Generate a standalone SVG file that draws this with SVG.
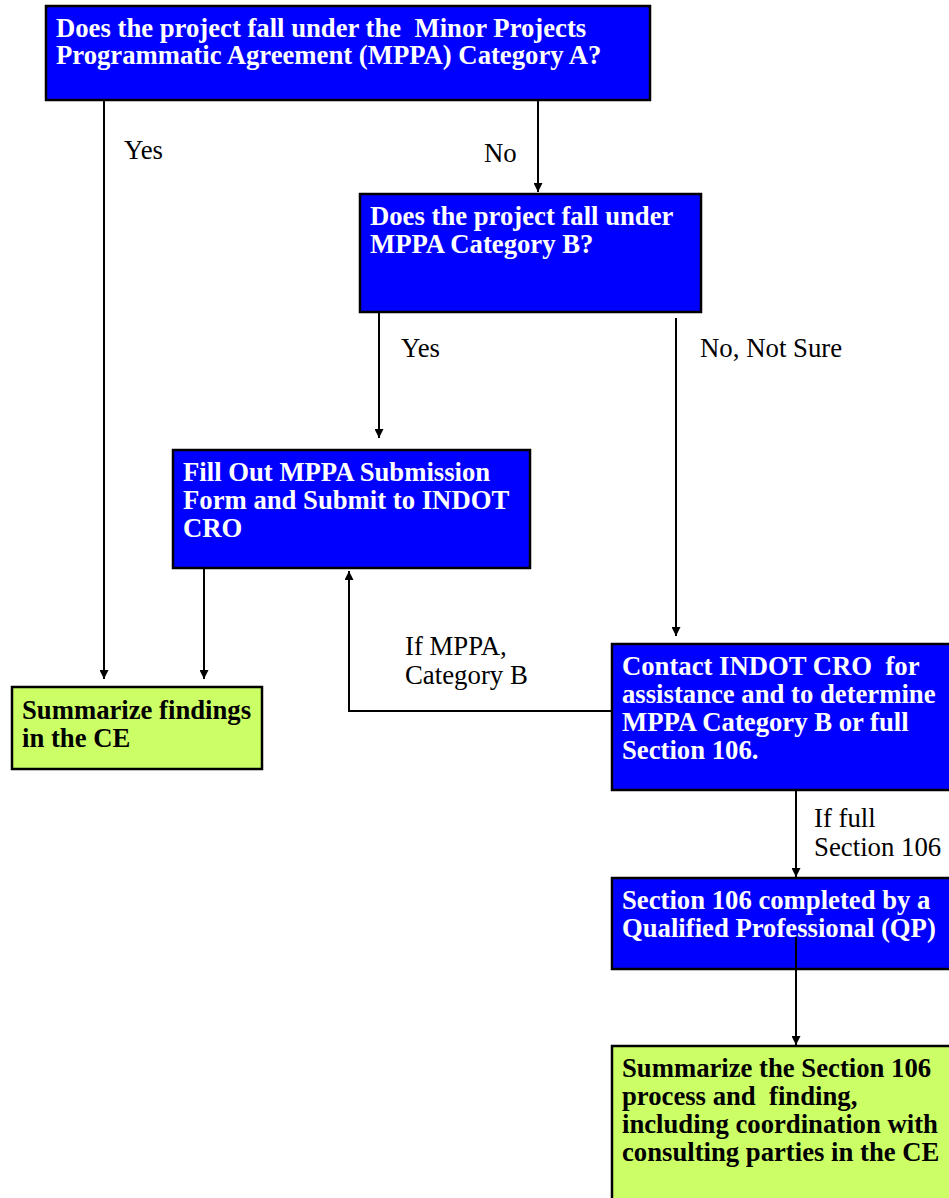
<svg xmlns="http://www.w3.org/2000/svg" width="949" height="1198" viewBox="0 0 949 1198">
  <style>
    .q { fill: #0000FF; stroke: #000; stroke-width: 2.5; }
    .s { fill: #CCFF66; stroke: #000; stroke-width: 2.5; }
    .qt { font-family: "Liberation Serif", "Times New Roman", serif; font-weight: bold; font-size: 26.7px; fill: #FFFFFF; }
    .st { font-family: "Liberation Serif", "Times New Roman", serif; font-weight: bold; font-size: 26.7px; fill: #000000; }
    .lbl { font-family: "Liberation Serif", "Times New Roman", serif; font-size: 26.8px; fill: #000000; }
    .c { fill: none; stroke: #000; stroke-width: 2; }
  </style>
  <defs>
    <marker id="arrow" viewBox="0 0 10 10" refX="10" refY="5" markerWidth="9" markerHeight="9" markerUnits="userSpaceOnUse" orient="auto">
      <path d="M0,0 L10,5 L0,10 z" fill="#000"/>
    </marker>
  </defs>

  <rect width="949" height="1198" fill="#FFFFFF"/>

  <!-- Nodes -->
  <g id="node-mppa-a">
    <rect class="q" x="46" y="6" width="604" height="94"/>
    <text class="qt" x="56" y="37" xml:space="preserve">Does the project fall under the  Minor Projects</text>
    <text class="qt" x="56" y="64">Programmatic Agreement (MPPA) Category A?</text>
  </g>

  <g id="node-mppa-b">
    <rect class="q" x="360" y="194" width="341" height="118"/>
    <text class="qt" x="370" y="225">Does the project fall under</text>
    <text class="qt" x="370" y="253">MPPA Category B?</text>
  </g>

  <g id="node-submission">
    <rect class="q" x="173" y="450" width="357" height="118"/>
    <text class="qt" x="183" y="481">Fill Out MPPA Submission</text>
    <text class="qt" x="183" y="509">Form and Submit to INDOT</text>
    <text class="qt" x="183" y="537">CRO</text>
  </g>

  <g id="node-summarize">
    <rect class="s" x="12" y="687" width="250" height="82"/>
    <text class="st" x="22" y="719">Summarize findings</text>
    <text class="st" x="22" y="747">in the CE</text>
  </g>

  <g id="node-contact-cro">
    <rect class="q" x="612" y="644" width="340" height="146"/>
    <text class="qt" x="622" y="675" xml:space="preserve">Contact INDOT CRO  for</text>
    <text class="qt" x="622" y="703">assistance and to determine</text>
    <text class="qt" x="622" y="731">MPPA Category B or full</text>
    <text class="qt" x="622" y="759">Section 106.</text>
  </g>

  <g id="node-section106">
    <rect class="q" x="612" y="878" width="340" height="91"/>
    <text class="qt" x="622" y="909">Section 106 completed by a</text>
    <text class="qt" x="622" y="937">Qualified Professional (QP)</text>
  </g>

  <g id="node-summarize-106">
    <rect class="s" x="612" y="1046" width="340" height="160"/>
    <text class="st" x="622" y="1077">Summarize the Section 106</text>
    <text class="st" x="622" y="1105" xml:space="preserve">process and  finding,</text>
    <text class="st" x="622" y="1133">including coordination with</text>
    <text class="st" x="622" y="1161">consulting parties in the CE</text>
  </g>

  <!-- Connectors -->
  <g id="connectors">
    <line class="c" x1="104" y1="100" x2="104" y2="679" marker-end="url(#arrow)"/>
    <line class="c" x1="538" y1="100" x2="538" y2="192" marker-end="url(#arrow)"/>
    <line class="c" x1="379" y1="312" x2="379" y2="438" marker-end="url(#arrow)"/>
    <line class="c" x1="676" y1="318" x2="676" y2="636" marker-end="url(#arrow)"/>
    <line class="c" x1="204" y1="568" x2="204" y2="679" marker-end="url(#arrow)"/>
    <polyline class="c" points="612,711 349,711 349,571" marker-end="url(#arrow)"/>
    <line class="c" x1="796" y1="790" x2="796" y2="877" marker-end="url(#arrow)"/>
    <line class="c" x1="796" y1="937" x2="796" y2="1045" marker-end="url(#arrow)"/>
  </g>

  <!-- Connector labels -->
  <g id="labels">
    <text class="lbl" x="124" y="159">Yes</text>
    <text class="lbl" x="484" y="162">No</text>
    <text class="lbl" x="401" y="357">Yes</text>
    <text class="lbl" x="700" y="357">No, Not Sure</text>
    <text class="lbl" x="405" y="655">If MPPA,</text>
    <text class="lbl" x="405" y="684">Category B</text>
    <text class="lbl" x="814" y="827">If full</text>
    <text class="lbl" x="814" y="856">Section 106</text>
  </g>
</svg>
